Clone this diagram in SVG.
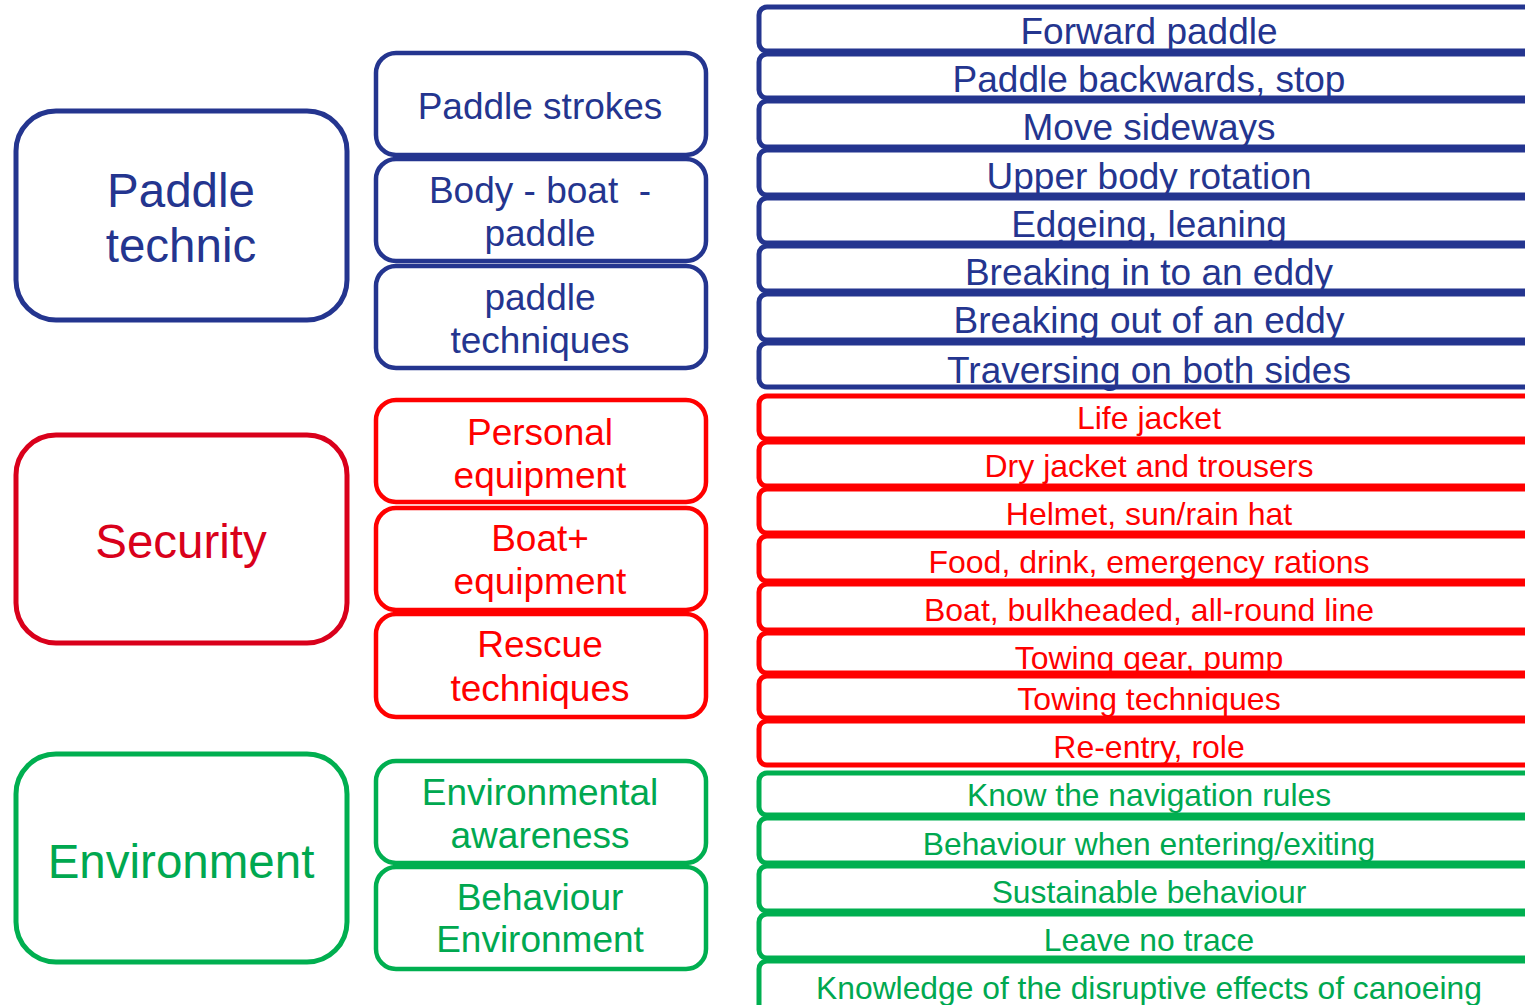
<svg xmlns="http://www.w3.org/2000/svg" width="1525" height="1005" viewBox="0 0 1525 1005">
<style>
text{font-family:"Liberation Sans",Arial,sans-serif;text-anchor:middle}
rect{fill:#fff}
.b{stroke:#24358F;color:#24358F}
.r{stroke:#FF0000}
.rd{stroke:#D9001B}
.g{stroke:#00AF50}
.tb{fill:#24358F}
.tr{fill:#FF0000}
.trd{fill:#D9001B}
.tg{fill:#00A850}
.L rect{stroke-width:5}
.M rect{stroke-width:4.5}
.R rect{stroke-width:5}
.L text{font-size:47.5px}
.M text{font-size:37px}
.R .bl text{font-size:37px}
.R .rl text{font-size:32px}
.R .gl text{font-size:31.8px}
</style>
<rect x="0" y="0" width="1525" height="1005" fill="#fff" stroke="none"/>
<g id="left" class="L">
<g id="paddle-technic"><rect class="b" x="16" y="111" width="331" height="209" rx="40"/><text class="tb" x="181" y="207">Paddle</text><text class="tb" x="181" y="262">technic</text></g>
<g id="security"><rect class="rd" x="16" y="435" width="331" height="208" rx="40"/><text class="trd" x="181" y="558">Security</text></g>
<g id="environment"><rect class="g" x="16" y="754" width="331" height="208" rx="40"/><text class="tg" x="181" y="878">Environment</text></g>
</g>
<g id="middle" class="M">
<g id="paddle-strokes"><rect class="b" x="376" y="53" width="330" height="102" rx="20"/><text class="tb" x="540" y="119">Paddle strokes</text></g>
<g id="body-boat-paddle"><rect class="b" x="376" y="159" width="330" height="102" rx="20"/><text class="tb" x="540" y="203" xml:space="preserve" style="white-space:pre">Body - boat  -</text><text class="tb" x="540" y="246">paddle</text></g>
<g id="paddle-techniques"><rect class="b" x="376" y="266" width="330" height="102" rx="20"/><text class="tb" x="540" y="310">paddle</text><text class="tb" x="540" y="353">techniques</text></g>
<g id="personal-equipment"><rect class="r" x="376" y="400" width="330" height="102" rx="20"/><text class="tr" x="540" y="445">Personal</text><text class="tr" x="540" y="488">equipment</text></g>
<g id="boat-equipment"><rect class="r" x="376" y="508" width="330" height="102" rx="20"/><text class="tr" x="540" y="551">Boat+</text><text class="tr" x="540" y="594">equipment</text></g>
<g id="rescue-techniques"><rect class="r" x="376" y="614" width="330" height="103" rx="20"/><text class="tr" x="540" y="657">Rescue</text><text class="tr" x="540" y="701">techniques</text></g>
<g id="env-awareness"><rect class="g" x="376" y="761" width="330" height="102" rx="20"/><text class="tg" x="540" y="805">Environmental</text><text class="tg" x="540" y="848">awareness</text></g>
<g id="behaviour-env"><rect class="g" x="376" y="867" width="330" height="102" rx="20"/><text class="tg" x="540" y="910">Behaviour</text><text class="tg" x="540" y="952">Environment</text></g>
</g>
<g id="right" class="R">
<g class="bl">
<g id="r1"><rect class="b" x="759" y="7" width="900" height="44" rx="8"/><text class="tb" x="1149" y="44">Forward paddle</text></g>
<g id="r2"><rect class="b" x="759" y="54" width="900" height="44" rx="8"/><text class="tb" x="1149" y="92">Paddle backwards, stop</text></g>
<g id="r3"><rect class="b" x="759" y="101" width="900" height="46" rx="8"/><text class="tb" x="1149" y="140">Move sideways</text></g>
<g id="r4"><rect class="b" x="759" y="150" width="900" height="45" rx="8"/><text class="tb" x="1149" y="189">Upper body rotation</text></g>
<g id="r5"><rect class="b" x="759" y="198" width="900" height="45" rx="8"/><text class="tb" x="1149" y="237">Edgeing, leaning</text></g>
<g id="r6"><rect class="b" x="759" y="246" width="900" height="45" rx="8"/><text class="tb" x="1149" y="285">Breaking in to an eddy</text></g>
<g id="r7"><rect class="b" x="759" y="294" width="900" height="46" rx="8"/><text class="tb" x="1149" y="333">Breaking out of an eddy</text></g>
<g id="r8"><rect class="b" x="759" y="343" width="900" height="44" rx="8"/><text class="tb" x="1149" y="383">Traversing on both sides</text></g>
</g>
<g class="rl">
<g id="r9"><rect class="r" x="759" y="396" width="900" height="43" rx="8"/><text class="tr" x="1149" y="429">Life jacket</text></g>
<g id="r10"><rect class="r" x="759" y="442" width="900" height="44" rx="8"/><text class="tr" x="1149" y="477">Dry jacket and trousers</text></g>
<g id="r11"><rect class="r" x="759" y="489" width="900" height="44" rx="8"/><text class="tr" x="1149" y="525">Helmet, sun/rain hat</text></g>
<g id="r12"><rect class="r" x="759" y="536" width="900" height="45" rx="8"/><text class="tr" x="1149" y="573">Food, drink, emergency rations</text></g>
<g id="r13"><rect class="r" x="759" y="584" width="900" height="46" rx="8"/><text class="tr" x="1149" y="621">Boat, bulkheaded, all-round line</text></g>
<g id="r14"><rect class="r" x="759" y="633" width="900" height="40" rx="8"/><text class="tr" x="1149" y="669">Towing gear, pump</text></g>
<g id="r15"><rect class="r" x="759" y="676" width="900" height="42" rx="8"/><text class="tr" x="1149" y="710">Towing techniques</text></g>
<g id="r16"><rect class="r" x="759" y="721" width="900" height="44" rx="8"/><text class="tr" x="1149" y="758">Re-entry, role</text></g>
</g>
<g class="gl">
<g id="r17"><rect class="g" x="759" y="773" width="900" height="42" rx="8"/><text class="tg" x="1149" y="806">Know the navigation rules</text></g>
<g id="r18"><rect class="g" x="759" y="818" width="900" height="45" rx="8"/><text class="tg" x="1149" y="855">Behaviour when entering/exiting</text></g>
<g id="r19"><rect class="g" x="759" y="866" width="900" height="45" rx="8"/><text class="tg" x="1149" y="903">Sustainable behaviour</text></g>
<g id="r20"><rect class="g" x="759" y="914" width="900" height="44" rx="8"/><text class="tg" x="1149" y="951">Leave no trace</text></g>
<g id="r21"><rect class="g" x="759" y="961" width="900" height="80" rx="8"/><text class="tg" x="1149" y="999">Knowledge of the disruptive effects of canoeing</text></g>
</g>
</g>
</svg>
